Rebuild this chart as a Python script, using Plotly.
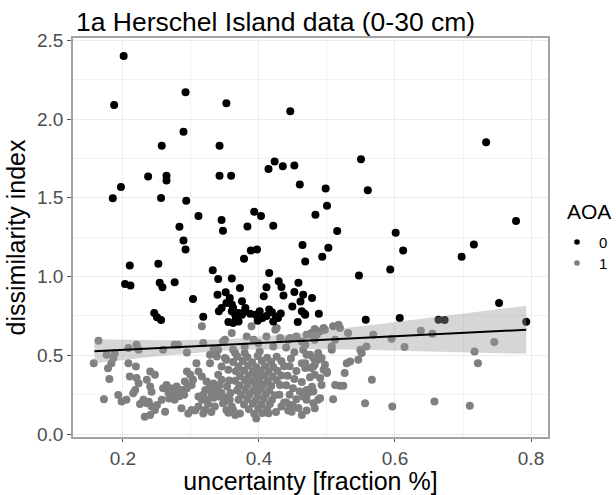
import plotly.graph_objects as go

# ---------------- data ----------------
# AOA = 0 (black points)
aoa0_x = [0.201, 0.187, 0.292, 0.352, 0.446, 0.289, 0.257, 0.342,
          0.237, 0.264, 0.264, 0.342, 0.359, 0.414, 0.423, 0.435, 0.452,
          0.460, 0.498, 0.500, 0.197, 0.185, 0.256, 0.293, 0.311,
          0.393, 0.403, 0.383, 0.421, 0.483, 0.345, 0.347, 0.283,
          0.289, 0.464, 0.502, 0.515, 0.734, 0.550, 0.560, 0.601,
          0.778, 0.716, 0.612, 0.698, 0.493, 0.468, 0.547, 0.593,
          0.465, 0.478, 0.463, 0.467, 0.488, 0.557, 0.607, 0.664,
          0.673, 0.753, 0.793, 0.292, 0.210, 0.203, 0.211, 0.252,
          0.254, 0.258, 0.276, 0.303, 0.246, 0.250, 0.256, 0.318,
          0.332, 0.340, 0.360, 0.378, 0.388, 0.397, 0.415, 0.429,
          0.433, 0.411, 0.407, 0.436, 0.452, 0.458, 0.449,
          0.461, 0.468, 0.457,
          0.341, 0.355, 0.362, 0.370, 0.360, 0.365, 0.375, 0.387,
          0.401, 0.405, 0.419, 0.425, 0.428, 0.421, 0.352, 0.360,
          0.362, 0.357, 0.351, 0.339, 0.375, 0.372,
          0.370, 0.379, 0.411, 0.395, 0.415, 0.432, 0.366, 0.398, 0.345, 0.380]
aoa0_y = [2.40, 2.09, 2.17, 2.10, 2.05, 1.92, 1.83, 1.83,
          1.635, 1.64, 1.61, 1.64, 1.64, 1.683, 1.73, 1.70, 1.705,
          1.584, 1.559, 1.45, 1.569, 1.497, 1.499, 1.482, 1.384,
          1.412, 1.384, 1.318, 1.323, 1.393, 1.359, 1.291, 1.317,
          1.229, 1.20, 1.183, 1.289, 1.853, 1.745, 1.548, 1.278,
          1.352, 1.204, 1.166, 1.125, 1.125, 1.096, 1.006, 1.045,
          0.885, 0.864, 0.779, 0.764, 0.764, 0.726, 0.737, 0.726,
          0.724, 0.832, 0.713, 1.172, 1.07, 0.953, 0.943, 1.081,
          0.96, 0.932, 0.964, 0.858, 0.769, 0.741, 0.724, 0.745,
          1.04, 0.985, 0.987, 1.113, 1.166, 1.172, 1.023, 0.97,
          0.934, 0.932, 0.875, 0.879, 0.902, 0.96, 0.809,
          0.841, 0.758, 0.711,
          0.779, 0.711, 0.705, 0.715, 0.779, 0.758, 0.758, 0.764,
          0.779, 0.737, 0.773, 0.747, 0.737, 0.715, 0.832, 0.822,
          0.801, 0.864, 0.90, 0.885, 0.843, 0.928,
          0.769, 0.780, 0.750, 0.757, 0.79, 0.765, 0.735, 0.72, 0.80, 0.80]

# AOA = 1 (grey points)
aoa1_x = [0.164, 0.157, 0.176, 0.188, 0.186, 0.183, 0.178, 0.180,
          0.172, 0.193, 0.198, 0.205, 0.208, 0.220, 0.223, 0.208,
          0.219, 0.210, 0.220, 0.223, 0.218, 0.215, 0.240, 0.247,
          0.235, 0.240, 0.242, 0.230, 0.235, 0.242, 0.250, 0.247,
          0.232, 0.240, 0.262, 0.257, 0.259, 0.264, 0.267, 0.272,
          0.274, 0.279, 0.281, 0.276, 0.286, 0.294, 0.291, 0.294,
          0.299, 0.303, 0.301, 0.286, 0.296, 0.301, 0.311, 0.321,
          0.316, 0.311, 0.323, 0.308, 0.311, 0.316, 0.323, 0.328,
          0.321, 0.330, 0.328, 0.328, 0.340, 0.347, 0.350, 0.340,
          0.345, 0.353, 0.340, 0.347, 0.335, 0.357, 0.352, 0.360,
          0.276, 0.281, 0.294, 0.316, 0.345, 0.355,
          0.270, 0.283, 0.290, 0.268, 0.238, 0.225, 0.318, 0.325,
          0.333, 0.338, 0.345, 0.350, 0.358, 0.342, 0.333, 0.356,
          0.350, 0.362, 0.389, 0.392, 0.411, 0.426, 0.446, 0.455,
          0.463, 0.477, 0.482, 0.495, 0.509, 0.421, 0.401, 0.379,
          0.333, 0.338, 0.352, 0.259, 0.318,
          0.382, 0.360, 0.399, 0.424, 0.431, 0.443, 0.470, 0.468,
          0.482, 0.497, 0.517, 0.531, 0.512, 0.507, 0.549, 0.558,
          0.568, 0.551, 0.379, 0.365,
          0.534, 0.529, 0.546, 0.526, 0.566, 0.556, 0.509, 0.492,
          0.512, 0.519, 0.524, 0.500, 0.482, 0.480, 0.487, 0.475,
          0.463, 0.468, 0.480, 0.487, 0.448, 0.463, 0.446, 0.414,
          0.362, 0.350,
          0.519, 0.490, 0.485, 0.480, 0.595, 0.638, 0.655, 0.614,
          0.507, 0.500, 0.495, 0.497, 0.492, 0.487, 0.480, 0.482,
          0.477, 0.470, 0.468, 0.465, 0.490, 0.490, 0.480, 0.470,
          0.465, 0.472, 0.482, 0.596, 0.658, 0.710, 0.717, 0.722,
          0.746,
          0.368, 0.383, 0.398, 0.412, 0.426,
          0.362, 0.376, 0.390, 0.404, 0.418, 0.433,
          0.370, 0.384, 0.396, 0.409, 0.421, 0.437,
          0.366, 0.378, 0.391, 0.402, 0.414, 0.427,
          0.372, 0.385, 0.397, 0.408, 0.420, 0.433,
          0.365, 0.379, 0.390, 0.401, 0.413, 0.426,
          0.371, 0.383, 0.395, 0.406, 0.418, 0.431,
          0.368, 0.380, 0.392, 0.403, 0.415,
          0.374, 0.386, 0.398, 0.410, 0.423,
          0.370, 0.383, 0.395, 0.407, 0.419,
          0.378, 0.391, 0.404, 0.416,
          0.385, 0.399, 0.412,
          0.393, 0.405,
          0.396,
          0.440, 0.452, 0.447, 0.445, 0.455, 0.468, 0.442, 0.452,
          0.463, 0.440, 0.450, 0.460, 0.445, 0.455, 0.440, 0.450,
          0.443, 0.475, 0.478, 0.470,
          0.318, 0.306, 0.330, 0.372, 0.425, 0.433, 0.458, 0.470,
          0.365, 0.355, 0.437, 0.430]
aoa1_y = [0.592, 0.450, 0.503, 0.514, 0.482, 0.450, 0.418, 0.350,
          0.221, 0.248, 0.206, 0.217, 0.546, 0.567, 0.535, 0.450,
          0.429, 0.365, 0.355, 0.323, 0.280, 0.259, 0.397, 0.376,
          0.344, 0.301, 0.269, 0.217, 0.195, 0.174, 0.185, 0.153,
          0.110, 0.121, 0.142, 0.217, 0.291, 0.312, 0.259, 0.238,
          0.280, 0.301, 0.259, 0.217, 0.280, 0.291, 0.333, 0.397,
          0.376, 0.344, 0.312, 0.164, 0.131, 0.153, 0.174, 0.153,
          0.217, 0.238, 0.217, 0.450, 0.397, 0.365, 0.333, 0.301,
          0.280, 0.259, 0.503, 0.450, 0.535, 0.588, 0.482, 0.376,
          0.344, 0.301, 0.238, 0.195, 0.174, 0.217, 0.153, 0.174,
          0.567, 0.567, 0.518, 0.684, 0.429, 0.408,
          0.290, 0.240, 0.250, 0.225, 0.205, 0.190, 0.250, 0.190,
          0.230, 0.280, 0.260, 0.230, 0.260, 0.310, 0.320, 0.340,
          0.599, 0.535, 0.684, 0.599, 0.620, 0.673, 0.610, 0.620,
          0.588, 0.641, 0.667, 0.673, 0.684, 0.556, 0.524, 0.514,
          0.535, 0.492, 0.471, 0.535, 0.578,
          0.620, 0.641, 0.577, 0.662, 0.609, 0.599, 0.631, 0.567,
          0.599, 0.662, 0.694, 0.641, 0.599, 0.535, 0.535, 0.556,
          0.631, 0.514, 0.556, 0.514,
          0.461, 0.450, 0.471, 0.387, 0.344, 0.195, 0.221, 0.312,
          0.312, 0.306, 0.306, 0.397, 0.376, 0.429, 0.471, 0.503,
          0.450, 0.238, 0.270, 0.217, 0.142, 0.121, 0.185, 0.132,
          0.153, 0.206,
          0.673, 0.652, 0.631, 0.620, 0.605, 0.656, 0.637, 0.552,
          0.556, 0.387, 0.408, 0.440, 0.482, 0.514, 0.482, 0.440,
          0.419, 0.503, 0.450, 0.535, 0.355, 0.227, 0.195, 0.217,
          0.238, 0.259, 0.164, 0.174, 0.206, 0.180, 0.524, 0.450,
          0.584,
          0.492, 0.487, 0.495, 0.484, 0.490,
          0.458, 0.463, 0.455, 0.466, 0.457, 0.462,
          0.428, 0.433, 0.424, 0.431, 0.426, 0.430,
          0.398, 0.404, 0.396, 0.402, 0.395, 0.401,
          0.368, 0.372, 0.365, 0.373, 0.366, 0.371,
          0.338, 0.343, 0.336, 0.344, 0.337, 0.342,
          0.308, 0.313, 0.305, 0.312, 0.306, 0.311,
          0.278, 0.283, 0.276, 0.284, 0.277,
          0.248, 0.253, 0.245, 0.252, 0.246,
          0.218, 0.223, 0.215, 0.222, 0.216,
          0.188, 0.193, 0.186, 0.191,
          0.158, 0.163, 0.156,
          0.128, 0.133,
          0.098,
          0.550, 0.520, 0.480, 0.430, 0.400, 0.420, 0.370, 0.350,
          0.330, 0.310, 0.290, 0.270, 0.250, 0.220, 0.200, 0.180,
          0.150, 0.360, 0.300, 0.280,
          0.130, 0.150, 0.140, 0.130, 0.140, 0.175, 0.165, 0.150,
          0.120, 0.135, 0.200, 0.250]

# linear fit (geom_smooth)
fit_x = [0.158, 0.793]
fit_y = [0.525, 0.662]
band_x = [0.158, 0.25, 0.35, 0.45, 0.55, 0.65, 0.793]
band_lo = [0.449, 0.494, 0.531, 0.541, 0.535, 0.525, 0.509]
band_hi = [0.602, 0.596, 0.601, 0.635, 0.685, 0.737, 0.815]

x_ticks = [0.2, 0.4, 0.6, 0.8]
x_tick_labels = ["0.2", "0.4", "0.6", "0.8"]
x_minor = [0.3, 0.5, 0.7]
y_ticks = [0.0, 0.5, 1.0, 1.5, 2.0, 2.5]
y_tick_labels = ["0.0", "0.5", "1.0", "1.5", "2.0", "2.5"]
y_minor = [0.25, 0.75, 1.25, 1.75, 2.25]

legend_title = "AOA"
legend_levels = ["0", "1"]
legend_colors = ["black", "#7f7f7f"]

GREY_PT = "#7f7f7f"
FONT = "Liberation Sans, Arial, sans-serif"

W, H = 616, 495
ML, MR, MT, MB = 73, 68, 38, 58
PW, PH = W - ML - MR, H - MT - MB


def px_x(p):
    return (p - ML) / PW


def px_y(p):
    return (H - MB - p) / PH


fig = go.Figure()
fig.add_trace(go.Scatter(x=aoa1_x, y=aoa1_y, mode="markers",
                         marker=dict(color=GREY_PT, size=8, line=dict(width=0)),
                         showlegend=False))
fig.add_trace(go.Scatter(x=aoa0_x, y=aoa0_y, mode="markers",
                         marker=dict(color="black", size=8, line=dict(width=0)),
                         showlegend=False))
fig.add_trace(go.Scatter(x=band_x + band_x[::-1], y=band_hi + band_lo[::-1],
                         fill="toself", fillcolor="rgba(153,153,153,0.4)",
                         line=dict(width=0), mode="lines", hoverinfo="skip",
                         showlegend=False))
fig.add_trace(go.Scatter(x=fit_x, y=fit_y, mode="lines",
                         line=dict(color="black", width=2), showlegend=False))

# manual legend (ggplot style, on the right)
annotations = [dict(text=legend_title, xref="paper", yref="paper",
                    x=px_x(565), y=px_y(211), xanchor="left", yanchor="middle",
                    showarrow=False, font=dict(size=21, color="black", family=FONT))]
shapes = []
for i, (lab, col) in enumerate(zip(legend_levels, legend_colors)):
    yy = 242 + i * 21
    annotations.append(dict(text=lab, xref="paper", yref="paper",
                            x=px_x(597), y=px_y(yy), xanchor="left", yanchor="middle",
                            showarrow=False, font=dict(size=15, color="black", family=FONT)))
    shapes.append(dict(type="circle", xref="paper", yref="paper",
                       xsizemode="pixel", ysizemode="pixel",
                       xanchor=px_x(577), yanchor=px_y(yy),
                       x0=-2.8, x1=2.8, y0=-2.8, y1=2.8,
                       fillcolor=col, line=dict(width=0)))

fig.update_layout(
    width=W, height=H,
    margin=dict(l=ML, r=MR, t=MT, b=MB),
    paper_bgcolor="white", plot_bgcolor="white",
    font=dict(family=FONT, color="black"),
    title=dict(text="1a Herschel Island data (0-30 cm)",
               x=76 / W, xanchor="left", xref="container",
               y=1 - 22 / H, yanchor="middle", yref="container",
               font=dict(size=26.5, color="black", family=FONT)),
    showlegend=False,
    annotations=annotations,
    shapes=shapes,
)

fig.update_xaxes(
    range=[0.1265, 0.825], tickmode="array", tickvals=x_ticks, ticktext=x_tick_labels,
    showline=True, mirror=True, linecolor="#a3a3a3", linewidth=1.5,
    ticks="outside", ticklen=3, tickcolor="#555555", tickwidth=1,
    tickfont=dict(size=19, color="#4d4d4d"),
    showgrid=True, gridcolor="#ebebeb", gridwidth=1.2, zeroline=False,
    minor=dict(tickvals=x_minor, showgrid=True, gridcolor="#f2f2f2", gridwidth=1, ticks=""),
    title=dict(text="uncertainty [fraction %]", font=dict(size=25, color="black"), standoff=1),
    automargin=False,
)
fig.update_yaxes(
    range=[-0.019, 2.515], tickmode="array", tickvals=y_ticks, ticktext=y_tick_labels,
    showline=True, mirror=True, linecolor="#a3a3a3", linewidth=1.5,
    ticks="outside", ticklen=4, tickcolor="#555555", tickwidth=1,
    tickfont=dict(size=19, color="#4d4d4d"),
    showgrid=True, gridcolor="#ebebeb", gridwidth=1.2, zeroline=False,
    minor=dict(tickvals=y_minor, showgrid=True, gridcolor="#f2f2f2", gridwidth=1, ticks=""),
    title=dict(text="dissimilarity index", font=dict(size=25, color="black"), standoff=4),
    automargin=False,
)

# remove the browser's default 8px body margin so the figure sits at (0, 0)
fig.write_html("out.html", config={"displayModeBar": False},
               post_script="document.body.style.margin='0';document.body.style.overflow='hidden';")
